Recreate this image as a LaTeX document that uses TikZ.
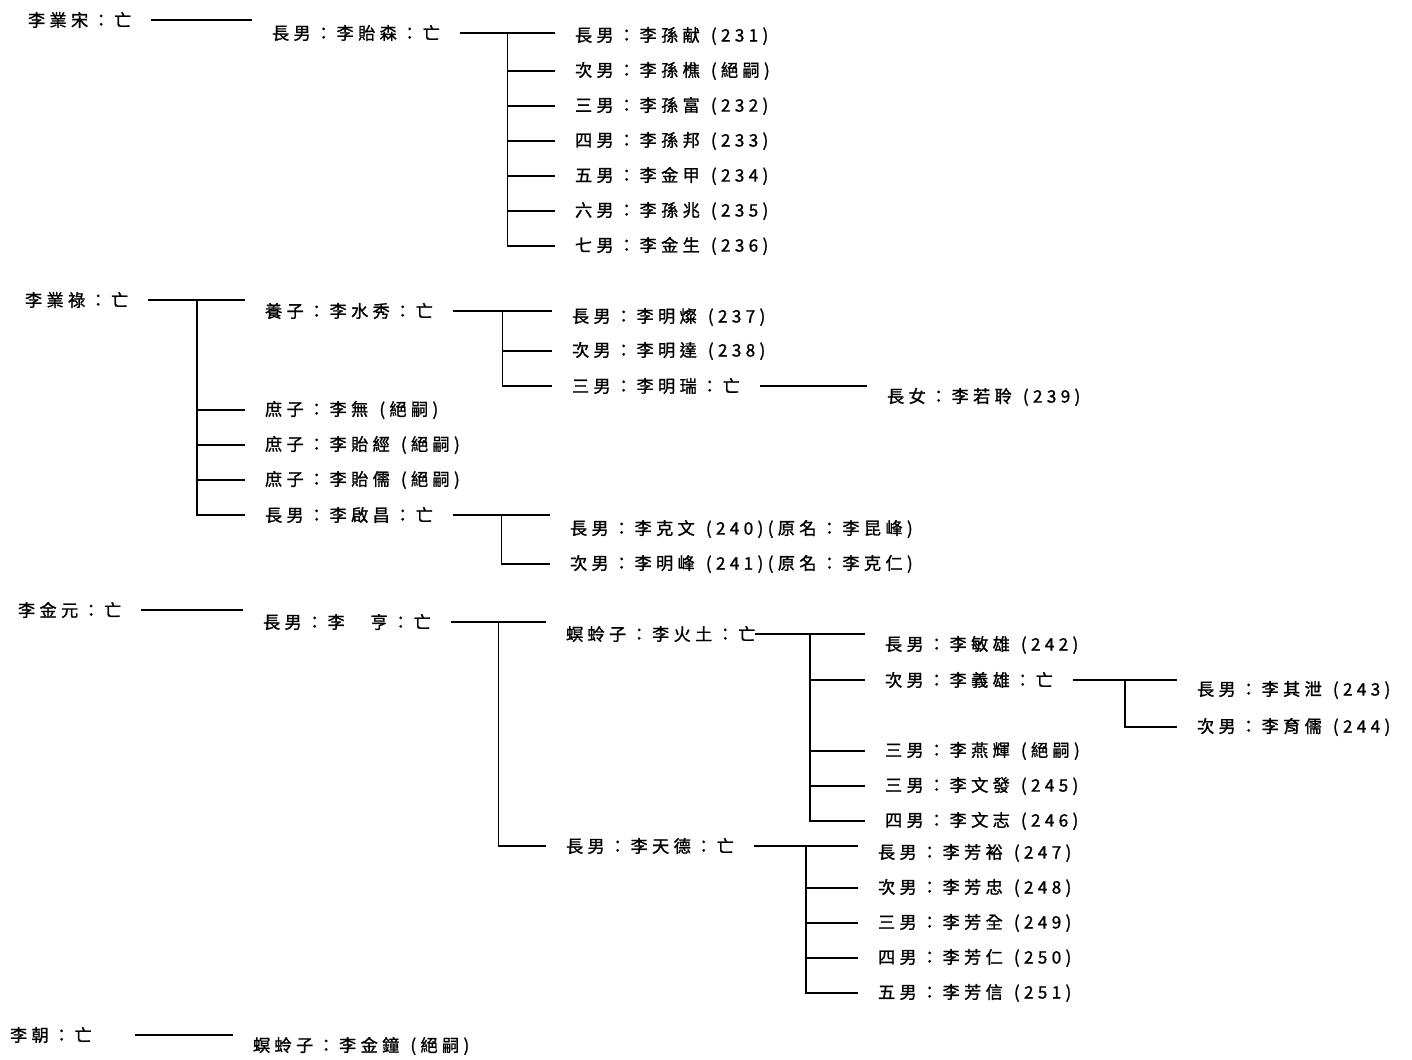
\documentclass[tikz,border=0pt]{standalone}
\usepackage{fontspec}
\newfontfamily\twfont[LetterSpace=25,FakeBold=1.2]{Noto Sans CJK TC}
\usetikzlibrary{calc}

\begin{document}
\begin{tikzpicture}[x=0.02cm, y=-0.02cm, line width=1pt,
    font=\twfont\fontsize{9.8}{12}\selectfont,
    lbl/.style={anchor=west, inner sep=0pt, outer xsep=0.4cm, xshift=-0.4cm}]
  \useasboundingbox (0,0) rectangle (1412,1060);
  \begin{scope}
    \node[lbl] (song) at (28,20) {李業宋：亡};
    \node[lbl] (yisen) at (272,33) {長男：李貽森：亡};
    \foreach \n/\y/\t in {1/36/長男：李孫献\ \,(231), 2/71/次男：李孫樵\ \,(絕嗣),
        3/106/三男：李孫富\ \,(232), 4/141/四男：李孫邦\ \,(233), 5/176/五男：李金甲\ \,(234),
        6/211/六男：李孫兆\ \,(235), 7/246/七男：李金生\ \,(236)} {
      \node[lbl] (ys\n) at (575,\y) {\t};
    }
    \draw (song.east) -- (song.east -| yisen.west);
    \draw (yisen.east) -- (yisen.east -| ys1.west);
    \coordinate (j1) at ($(yisen.east)!0.5!(yisen.east -| ys1.west)$);
    \draw (j1) |- (ys7.west);
    \foreach \n in {2,...,6} {
      \draw (j1 |- ys\n.west) -- (ys\n.west);
    }
  \end{scope}
  \begin{scope}
    \node[lbl] (lu) at (25,300) {李業祿：亡};
    \node[lbl] (shuixiu) at (265,311) {養子：李水秀：亡};
    \node[lbl] (wu) at (265,410) {庶子：李無\ \,(絕嗣)};
    \node[lbl] (jing) at (265,445) {庶子：李貽經\ \,(絕嗣)};
    \node[lbl] (ru) at (265,480) {庶子：李貽儒\ \,(絕嗣)};
    \node[lbl] (qichang) at (265,515) {長男：李啟昌：亡};
    \draw (lu.east) -- (lu.east -| shuixiu.west);
    \coordinate (j2) at ($(lu.east)!0.5!(lu.east -| shuixiu.west)$);
    \draw (j2) |- (qichang.west);
    \foreach \n in {wu,jing,ru} {
      \draw (j2 |- \n.west) -- (\n.west);
    }
    \node[lbl] (sx1) at (572,317) {長男：李明燦\ \,(237)};
    \node[lbl] (sx2) at (572,351) {次男：李明達\ \,(238)};
    \node[lbl] (sx3) at (572,386) {三男：李明瑞：亡};
    \node[lbl] (ruoling) at (887,397) {長女：李若聆\ \,(239)};
    \draw (shuixiu.east) -- (shuixiu.east -| sx1.west);
    \coordinate (j3) at ($(shuixiu.east)!0.5!(shuixiu.east -| sx1.west)$);
    \draw (j3) |- (sx3.west);
    \draw (j3 |- sx2.west) -- (sx2.west);
    \draw (sx3.east) -- (sx3.east -| ruoling.west);
    \node[lbl] (qc1) at (570,529) {長男：李克文\ \,(240)(原名：李昆峰)};
    \node[lbl] (qc2) at (570,564) {次男：李明峰\ \,(241)(原名：李克仁)};
    \draw (qichang.east) -- (qichang.east -| qc1.west);
    \coordinate (j4) at ($(qichang.east)!0.5!(qichang.east -| qc1.west)$);
    \draw (j4) |- (qc2.west);
  \end{scope}
  \begin{scope}
    \node[lbl] (jinyuan) at (18,610) {李金元：亡};
    \node[lbl] (heng) at (263,622) {長男：李　亨：亡};
    \node[lbl] (huotu) at (566,634) {螟蛉子：李火土：亡};
    \node[lbl] (tiande) at (566,846) {長男：李天德：亡};
    \draw (jinyuan.east) -- (jinyuan.east -| heng.west);
    \draw (heng.east) -- (heng.east -| huotu.west);
    \coordinate (j5) at ($(heng.east)!0.5!(heng.east -| huotu.west)$);
    \draw (j5) |- (tiande.west);
    \foreach \n/\y/\t in {1/645/長男：李敏雄\ \,(242), 2/680/次男：李義雄：亡,
        3/751/三男：李燕輝\ \,(絕嗣), 4/786/三男：李文發\ \,(245), 5/821/四男：李文志\ \,(246)} {
      \node[lbl] (ht\n) at (885,\y) {\t};
    }
    \draw ([xshift=-0.4cm]huotu.east) -- (huotu.east -| ht1.west);
    \coordinate (j6) at ($([xshift=-0.4cm]huotu.east)!0.5!(huotu.east -| ht1.west)$);
    \draw (j6) |- (ht5.west);
    \foreach \n in {2,3,4} {
      \draw (j6 |- ht\n.west) -- (ht\n.west);
    }
    \node[lbl] (yx1) at (1197,690) {長男：李其泄\ \,(243)};
    \node[lbl] (yx2) at (1197,727) {次男：李育儒\ \,(244)};
    \draw (ht2.east) -- (ht2.east -| yx1.west);
    \coordinate (j7) at ($(ht2.east)!0.5!(ht2.east -| yx1.west)$);
    \draw (j7) |- (yx2.west);
    \foreach \n/\y/\t in {1/853/長男：李芳裕\ \,(247), 2/888/次男：李芳忠\ \,(248),
        3/923/三男：李芳全\ \,(249), 4/958/四男：李芳仁\ \,(250), 5/993/五男：李芳信\ \,(251)} {
      \node[lbl] (td\n) at (878,\y) {\t};
    }
    \draw (tiande.east) -- (tiande.east -| td1.west);
    \coordinate (j8) at ($(tiande.east)!0.5!(tiande.east -| td1.west)$);
    \draw (j8) |- (td5.west);
    \foreach \n in {2,3,4} {
      \draw (j8 |- td\n.west) -- (td\n.west);
    }
  \end{scope}
  \node[lbl] (chao) at (10,1035) {李朝：亡};
  \node[lbl] (jinzhong) at (253,1046) {螟蛉子：李金鐘\ \,(絕嗣)};
  \draw ([xshift=0.46cm]chao.east) -- (chao.east -| jinzhong.west);
\end{tikzpicture}
\end{document}
